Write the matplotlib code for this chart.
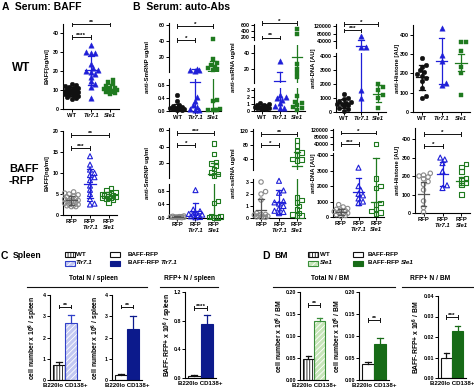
import numpy as np
import matplotlib
matplotlib.use('Agg')
import matplotlib.pyplot as plt
from matplotlib.patches import Rectangle
from matplotlib.lines import Line2D

# ---------------- data ----------------
groups_top = ['WT', 'Tlr7.1', 'Sle1']
groups_bot = ['RFP', 'Tlr7.1', 'Sle1']

# A: serum BAFF (ng/ml)
baff_wt = [[13, 12.5, 12, 11.5, 11, 11, 10.5, 10, 10, 9.5, 9.5, 9, 9, 8.5, 8.5, 8, 8, 7.5, 7, 7, 6.5, 6, 5.5],
           [33.5, 30, 29.5, 29.5, 23.5, 21.5, 20.5, 20, 19.5, 18.5, 17, 14.5, 13, 11.5, 6],
           [15.5, 14, 13, 12, 11, 10.5, 10, 10, 9.5, 9, 8.5, 8, 11]]
baff_wt_mean = [9.2, 20.3, 10.6]
baff_wt_sd = [2.2, 7.5, 2.3]
baff_rfp = [[5.5, 5.2, 5, 4.8, 4.5, 4.3, 4, 4, 3.8, 3.5, 3.5, 3.3, 3.2, 3, 3, 2.8, 2.5, 2.5, 2.3, 2.2, 2, 2],
            [14, 12, 10.8, 10, 9.5, 9, 8.3, 7, 6, 5, 3.8, 2.7, 2.5],
            [6.5, 6, 5.5, 5.3, 5, 5, 4.8, 4.6, 4.5, 4.3, 4, 4, 3.8, 3.5, 3]]
baff_rfp_mean = [3.5, 7.5, 4.6]
baff_rfp_sd = [1.1, 3.5, 0.9]

# B: auto-antibodies, WT background
smrnp_wt = [[0.50, 0.30, 0.20, 0.15, 0.12, 0.10, 0.10, 0.08, 0.06, 0.05, 0.05, 0.04, 0.03],
            [5.0, 4.0, 3.5, 3.0, 0.42, 0.30, 0.19, 0.12, 0.05, 0.03, 0.02],
            [43, 17, 12, 10, 8, 6, 5, 4, 0.35, 0.30, 0.05, 0.04, 0.03, 0.02, 0.02]]
smrnp_wt_mean = [0.10, 0.88, 3.0]
smrnp_wt_sd = [0.12, 4.6, 12.0]
ssrna_wt = [[1.2, 1.0, 0.9, 0.8, 0.7, 0.6, 0.6, 0.5, 0.5, 0.4, 0.4, 0.3, 0.3],
            [30, 2.3, 2.0, 1.8, 1.6, 1.1, 0.7, 0.5, 0.4],
            [460, 290, 26, 20, 15, 10, 2.2, 1.3, 1.1, 0.8, 0.6, 0.4, 0.15]]
ssrna_wt_mean = [0.65, 5.0, 35.0]
ssrna_wt_sd = [0.3, 11.0, 60.0]
dna_wt = [[1300, 1000, 900, 800, 700, 650, 600, 550, 500, 400, 300, 200, 100],
          [66000, 9000, 8000, 1600, 1000],
          [2000, 1750, 1600, 1200, 1000, 300]]
dna_wt_mean = [620, 17000, 1300]
dna_wt_sd = [330, 28000, 600]
hist_wt = [[280, 245, 235, 215, 205, 195, 185, 175, 160, 125, 85, 75],
           [435, 295, 265, 150, 140],
           [360, 360, 315, 235, 200, 90]]
hist_wt_mean = [180, 263, 255]
hist_wt_sd = [65, 120, 45]

# B: auto-antibodies, BAFF-RFP background
smrnp_rfp = [[0.06, 0.05, 0.04, 0.04, 0.03, 0.03, 0.03, 0.02, 0.02, 0.02, 0.01, 0.01],
             [0.82, 0.25, 0.20, 0.15, 0.12, 0.10, 0.10, 0.08, 0.05, 0.03, 0.02],
             [44, 31, 21, 19, 16, 12, 8, 6, 4, 0.50, 0.45, 0.05, 0.04, 0.03, 0.03, 0.02, 0.02]]
smrnp_rfp_mean = [0.03, 0.20, 6.0]
smrnp_rfp_sd = [0.02, 0.23, 14.0]
ssrna_rfp = [[3.0, 2.2, 2.0, 1.5, 0.4, 0.3, 0.3, 0.25, 0.2, 0.15, 0.1, 0.1, 0.05, 0.05],
             [3.1, 2.3, 2.1, 1.4, 1.3, 1.2, 1.0, 0.8, 0.6, 0.5, 0.4],
             [92, 78, 62, 58, 50, 40, 38, 35, 1.7, 1.5, 1.3, 1.0, 0.7, 0.4, 0.3, 0.2, 0.2]]
ssrna_rfp_mean = [0.67, 1.36, 18.0]
ssrna_rfp_sd = [0.9, 1.0, 40.0]
dna_rfp = [[800, 650, 550, 500, 450, 400, 350, 300, 250, 200, 150, 100, 50],
           [3200, 2000, 1750, 1500, 1400, 1200, 1000, 900],
           [38000, 2500, 2000, 1900, 900, 800, 500, 400, 300, 200]]
dna_rfp_mean = [350, 1650, 1000]
dna_rfp_sd = [200, 880, 2850]
hist_rfp = [[215, 205, 200, 195, 185, 170, 155, 125, 65, 30, 5],
            [300, 290, 270, 225, 150, 135],
            [265, 250, 225, 190, 175, 165, 150, 100]]
hist_rfp_mean = [105, 210, 175]
hist_rfp_sd = [65, 65, 22]

# C / D: plasma cell numbers (B220lo CD138+)
c_total_wt = [0.72, 2.68]
c_total_wt_err = [0.15, 0.38]
c_total_rfp = [0.22, 2.38]
c_total_rfp_err = [0.04, 0.62]
c_rfp_pos = [0.03, 0.75]
c_rfp_pos_err = [0.01, 0.13]
d_total_wt = [0.048, 0.133]
d_total_wt_err = [0.006, 0.009]
d_total_rfp = [0.036, 0.082]
d_total_rfp_err = [0.004, 0.014]
d_rfp_pos = [0.010, 0.023]
d_rfp_pos_err = [0.0022, 0.0022]

# ---------------- style ----------------
W, H = 474, 392
plt.rcParams['font.family'] = ['Liberation Sans', 'DejaVu Sans']
plt.rcParams['font.weight'] = 'bold'
plt.rcParams['mathtext.fontset'] = 'custom'
plt.rcParams['mathtext.rm'] = 'Liberation Sans:bold'
plt.rcParams['mathtext.default'] = 'rm'
plt.rcParams['hatch.linewidth'] = 0.6
plt.rcParams['axes.linewidth'] = 0.8

BLACK = '#111111'
BLUE = '#1f1fd8'
GREEN = '#1f7a1f'
GRAY = '#8a8a8a'
NAVY = '#0c1a8c'
DGREEN = '#176b17'
LBLUE = '#c3c8f2'
LGREEN = '#c6e6b8'

fig = plt.figure(figsize=(W / 100, H / 100), dpi=100)
renderer = fig.canvas.get_renderer()


def pax(x0, y0, x1, y1):
    return fig.add_axes([x0 / W, 1 - y1 / H, (x1 - x0) / W, (y1 - y0) / H])


def ftext(x, y, s, **kw):
    return fig.text(x / W, 1 - y / H, s, **kw)


def fline(x0, y0, x1, y1, **kw):
    fig.add_artist(Line2D([x0 / W, x1 / W], [1 - y0 / H, 1 - y1 / H],
                          transform=fig.transFigure, **kw))


def frect(x, y, w, h, **kw):
    fig.add_artist(Rectangle((x / W, 1 - (y + h) / H), w / W, h / H,
                             transform=fig.transFigure, **kw))


def bracket(ax, i, j, y, stars, fs=4.6):
    ax.plot([i, j], [y, y], color=BLACK, lw=0.7, clip_on=False, zorder=5)
    inv = ax.transData.inverted()
    for xx in (i, j):
        xd, yd = ax.transData.transform((xx, y))
        y1 = inv.transform((xd, yd - 1.8))[1]
        y2 = inv.transform((xd, yd + 1.8))[1]
        ax.plot([xx, xx], [y1, y2], color=BLACK, lw=0.7, clip_on=False, zorder=5)
    ax.annotate(stars, xy=((i + j) / 2, y), xytext=(0, -0.6), textcoords='offset points',
                ha='center', va='bottom', fontsize=fs, annotation_clip=False)


def swarm(ys, d, maxw=8.0):
    """Simple beeswarm in pixel space, limited to +-maxw pixels."""
    order = np.argsort(ys)
    placed = []
    offs = np.zeros(len(ys))
    step = d * 0.45
    cands = [0.0]
    n = 1
    while n * step <= maxw:
        cands += [n * step, -n * step]
        n += 1
    thr = d * 0.78
    for k in order:
        y = ys[k]
        best_c, best_d = 0.0, -1.0
        chosen = None
        for c in cands:
            md = min([np.hypot(c - px, y - py) for px, py in placed] or [1e9])
            if md >= thr:
                chosen = c
                break
            if md > best_d:
                best_c, best_d = c, md
        if chosen is None:
            chosen = best_c
        placed.append((chosen, y))
        offs[k] = chosen
    return offs


STY = {
    'top': [('o', BLACK, True, 11), ('^', BLUE, True, 15), ('s', GREEN, True, 11)],
    'bot': [('o', GRAY, False, 10), ('^', BLUE, False, 13), ('s', GREEN, False, 10)],
}
MEANC = {'top': [BLACK, BLUE, GREEN], 'bot': ['#555555', BLUE, GREEN]}


def pick(axes, v):
    best, bd = 0, 1e99
    for k, ax in enumerate(axes):
        lo, hi = ax.get_ylim()
        if lo <= v <= hi:
            return k
        dd = min(abs(v - lo), abs(v - hi)) / (hi - lo)
        if dd < bd:
            best, bd = k, dd
    return best


def dot_panel(x0, x1, sections, data, means, sds, row, brackets, ylabel, ylx):
    axes = []
    for k, (yt, yb, lim, ticks, tl) in enumerate(sections):
        ax = pax(x0, yt, x1, yb)
        ax.set_xlim(-0.45, 2.45)
        ax.set_ylim(*lim)
        ax.set_yticks(ticks)
        ax.set_yticklabels(tl)
        ax.spines['top'].set_visible(False)
        ax.spines['right'].set_visible(False)
        ax.patch.set_visible(False)
        ax.tick_params(axis='y', length=2, width=0.7, pad=1, labelsize=3.8)
        axes.append(ax)
    bot = axes[-1]
    bot.set_xticks([0, 1, 2])
    bot.tick_params(axis='x', length=2, width=0.7, pad=1.2, labelsize=4.2)
    if row == 'top':
        bot.set_xticklabels(groups_top)
        for lab in bot.get_xticklabels()[1:]:
            lab.set_style('italic')
    else:
        bot.set_xticklabels(['RFP'] * 3)
        for g in (1, 2):
            bot.annotate(groups_bot[g], xy=(g, 0), xycoords=('data', 'axes fraction'),
                         xytext=(0, -7.2), textcoords='offset points', ha='center', va='top',
                         fontsize=4.2, style='italic', annotation_clip=False)
    pxu = bot.transData.transform((1, 0))[0] - bot.transData.transform((0, 0))[0]
    for g, vals in enumerate(data):
        vals = np.asarray(vals, float)
        sec = np.array([pick(axes, v) for v in vals])
        ys = np.array([axes[s_].transData.transform((0, v))[1] for s_, v in zip(sec, vals)])
        xs = g + swarm(ys, 5.0, maxw=0.42 * pxu) / pxu
        mk, col, filled, sz = STY[row][g]
        mc = MEANC[row][g]
        m, s = means[g], sds[g]
        for k, ax in enumerate(axes):
            lo, hi = ax.get_ylim()
            inside = sec == k
            if inside.any():
                if filled:
                    ax.scatter(xs[inside], vals[inside], marker=mk, s=sz, facecolors=col,
                               edgecolors=col, linewidths=0.3, zorder=3, clip_on=False)
                else:
                    ax.scatter(xs[inside], vals[inside], marker=mk, s=sz, facecolors='none',
                               edgecolors=col, linewidths=0.8, zorder=3, clip_on=False)
            if lo <= m <= hi:
                ax.plot([g - 0.3, g + 0.3], [m, m], color=mc, lw=0.9, zorder=4)
            a, b = max(m - s, lo), min(m + s, hi)
            if a < b:
                ax.plot([g, g], [a, b], color=mc, lw=0.9, zorder=4)
            for yy in (m - s, m + s):
                if lo <= yy <= hi:
                    ax.plot([g - 0.15, g + 0.15], [yy, yy], color=mc, lw=0.9, zorder=4)
    for ax in axes[:-1]:
        ax.spines['bottom'].set_visible(False)
        ax.tick_params(axis='x', which='both', bottom=False, labelbottom=False)
    for (i, j, y, st) in brackets:
        bracket(axes[0], i, j, y, st)
    ycen = (sections[0][0] + sections[-1][1]) / 2
    ftext(ylx, ycen, ylabel, rotation=90, ha='center', va='center', fontsize=4.3)
    return axes


def text_pair(x, y, s1, s2, fs):
    t = ftext(x, y, s1 + ' ', fontsize=fs, va='center')
    bb = t.get_window_extent(renderer=renderer)
    fig.text(bb.x1 / fig.dpi / fig.get_figwidth(), 1 - y / H, s2, fontsize=fs, va='center',
             style='italic')


# ---------------- Panel A ----------------
ftext(2, 7, 'A  Serum: BAFF', fontsize=7.5, va='center', ha='left')
ftext(12, 68, 'WT', fontsize=8.5, va='center', ha='left')
ftext(9, 175, 'BAFF\n-RFP', fontsize=8, va='center', ha='left', linespacing=1.25)

dot_panel(63, 119, [(23.5, 109, (0, 45), [0, 10, 20, 30, 40], ['0', '10', '20', '30', '40'])],
          baff_wt, baff_wt_mean, baff_wt_sd, 'top',
          [(0, 1, 38, '****'), (0, 2, 44.5, '**')], 'BAFF[ng/ml]', 47)
dot_panel(63, 117, [(131, 215, (0, 20), [0, 5, 10, 15, 20], ['0', '5', '10', '15', '20'])],
          baff_rfp, baff_rfp_mean, baff_rfp_sd, 'bot',
          [(0, 1, 16, '***'), (0, 2, 19, '**')], 'BAFF[ng/ml]', 47)

# ---------------- Panel B ----------------
ftext(133, 7, 'B  Serum: auto-Abs', fontsize=7.5, va='center', ha='left')

dot_panel(169, 221, [(23.4, 72.2, (1, 62), [20, 40, 60], ['20', '40', '60']),
                     (78.5, 111, (0, 1.0), [0, 0.4, 0.8], ['0.0', '0.4', '0.8'])],
          smrnp_wt, smrnp_wt_mean, smrnp_wt_sd, 'top',
          [(0, 1, 41, '*'), (0, 2, 58.5, '*')], 'anti-SmRNP ug/ml', 148)
dot_panel(254, 305, [(23.5, 40, (100, 650), [200, 400, 600], ['200', '400', '600']),
                     (45, 82.6, (3, 50), [20, 40], ['20', '40']),
                     (88, 111, (0, 3.3), [0, 1, 2, 3], ['0', '1', '2', '3'])],
          ssrna_wt, ssrna_wt_mean, ssrna_wt_sd, 'top',
          [(0, 1, 183, '**'), (0, 2, 660, '*')], 'anti-ssRNA ug/ml', 233)
dot_panel(336, 386, [(24, 48, (4000, 130000), [40000, 80000, 120000], ['40000', '80000', '120000']),
                     (53, 112, (0, 4200), [0, 1000, 2000, 3000, 4000], ['0', '1000', '2000', '3000', '4000'])],
          dna_wt, dna_wt_mean, dna_wt_sd, 'top',
          [(0, 1, 96000, '***'), (0, 2, 129000, '*')], 'anti-DNA [AU]', 313)
dot_panel(413, 470, [(25, 112, (0, 450), [0, 100, 200, 300, 400], ['0', '100', '200', '300', '400'])],
          hist_wt, hist_wt_mean, hist_wt_sd, 'top', [], 'anti-Histone [AU]', 397)

dot_panel(169, 222, [(128, 178, (1, 63), [20, 40, 60], ['20', '40', '60']),
                     (184, 218, (0, 1.0), [0, 0.4, 0.8], ['0.0', '0.4', '0.8'])],
          smrnp_rfp, smrnp_rfp_mean, smrnp_rfp_sd, 'bot',
          [(0, 1, 42, '*'), (0, 2, 57, '***')], 'anti-SmRNP ug/ml', 148)
dot_panel(253, 305, [(129, 170, (8, 125), [40, 80, 120], ['40', '80', '120']),
                     (179, 218, (0, 3.25), [0, 1, 2, 3], ['0', '1', '2', '3'])],
          ssrna_rfp, ssrna_rfp_mean, ssrna_rfp_sd, 'bot',
          [(0, 1, 79, '*'), (0, 2, 111, '**')], 'anti-ssRNA ug/ml', 233)
dot_panel(333, 384, [(129, 150, (4000, 125000), [40000, 80000, 120000], ['40000', '80000', '120000']),
                     (153, 217, (0, 4150), [0, 1000, 2000, 3000, 4000], ['0', '1000', '2000', '3000', '4000'])],
          dna_rfp, dna_rfp_mean, dna_rfp_sd, 'bot',
          [(0, 1, 40000, '***'), (0, 2, 104000, '*')], 'anti-DNA [AU]', 313)
dot_panel(415, 470, [(128, 213, (0, 460), [0, 100, 200, 300, 400], ['0', '100', '200', '300', '400'])],
          hist_rfp, hist_rfp_mean, hist_rfp_sd, 'bot',
          [(0, 1, 362, '*'), (0, 2, 427, '*')], 'anti-Histone [AU]', 397)


# ---------------- Panels C / D ----------------
BARSTY = {
    'wt': dict(face='white', hatch='||||||', hcol=BLACK, edge=BLACK),
    'tlr_h': dict(face=LBLUE, hatch='//////', hcol='white', edge='#3040c8'),
    'rfp': dict(face='white', hatch=None, hcol=None, edge=BLACK),
    'tlr_f': dict(face=NAVY, hatch=None, hcol=None, edge=NAVY),
    'sle_h': dict(face=LGREEN, hatch='//////', hcol='white', edge='#3a8f3a'),
    'sle_f': dict(face=DGREEN, hatch=None, hcol=None, edge=DGREEN),
}


def bar_panel(x0, x1, yt, yb, ylim, ticks, tl, means, errs, styles, br, ylabel, ylx):
    ax = pax(x0, yt, x1, yb)
    ax.set_xlim(-0.75, 1.75)
    ax.set_ylim(*ylim)
    ax.set_yticks(ticks)
    ax.set_yticklabels(tl)
    ax.set_xticks([])
    ax.spines['top'].set_visible(False)
    ax.spines['right'].set_visible(False)
    ax.patch.set_visible(False)
    ax.tick_params(axis='y', length=2, width=0.7, pad=1, labelsize=3.8)
    for g, (m, e, st) in enumerate(zip(means, errs, styles)):
        S = BARSTY[st]
        if S['hatch']:
            ax.bar(g, m, width=1.0, color=S['face'], hatch=S['hatch'], edgecolor=S['hcol'],
                   linewidth=0, zorder=2)
            ax.bar(g, m, width=1.0, fill=False, edgecolor=S['edge'], linewidth=0.8, zorder=3)
        else:
            ax.bar(g, m, width=1.0, color=S['face'], edgecolor=S['edge'], linewidth=0.8, zorder=2)
        ax.plot([g, g], [m, m + e], color=S['edge'], lw=0.9, zorder=4)
        ax.plot([g - 0.25, g + 0.25], [m + e, m + e], color=S['edge'], lw=0.9, zorder=4)
    bracket(ax, br[0], br[1], br[2], br[3])
    ax.annotate('B220lo CD138+', xy=(0.5, 0), xycoords=('data', 'axes fraction'),
                xytext=(0, -2.0), textcoords='offset points', ha='center', va='top',
                fontsize=4.4, annotation_clip=False)
    ftext(ylx, (yt + yb) / 2, ylabel, rotation=90, ha='center', va='center', fontsize=4.9)
    return ax


def legend_key(x, y, st):
    S = BARSTY[st]
    if S['hatch']:
        frect(x, y - 2.5, 10, 5, facecolor=S['face'], hatch=S['hatch'], edgecolor=S['hcol'], linewidth=0)
        frect(x, y - 2.5, 10, 5, fill=False, edgecolor=S['edge'], linewidth=0.8)
    else:
        frect(x, y - 2.5, 10, 5, facecolor=S['face'], edgecolor=S['edge'], linewidth=0.8)


# C header + legend
ftext(1, 256, 'C', fontsize=7.5, va='center', ha='left')
ftext(13, 256, 'Spleen', fontsize=6.2, va='center', ha='left')
legend_key(65, 254, 'wt'); ftext(76, 254, 'WT', fontsize=4.5, va='center')
legend_key(110, 254, 'rfp'); ftext(128, 254, 'BAFF-RFP', fontsize=4.5, va='center')
legend_key(65, 263, 'tlr_h'); ftext(76, 263, 'Tlr7.1', fontsize=4.5, va='center', style='italic')
legend_key(110, 263, 'tlr_f')
text_pair(128, 263, 'BAFF-RFP', 'Tlr7.1', 4.5)

ftext(93, 278, 'Total N / spleen', fontsize=4.8, ha='center', va='center')
fline(27, 287, 147, 287, color=BLACK, lw=0.8)
ftext(189, 278, 'RFP+ N / spleen', fontsize=4.8, ha='center', va='center')
fline(160, 287, 218, 287, color=BLACK, lw=0.8)

bar_panel(50, 80, 295, 380, (0, 4), [0, 1, 2, 3, 4], ['0', '1', '2', '3', '4'],
          c_total_wt, c_total_wt_err, ['wt', 'tlr_h'], (0, 1, 3.45, '**'),
          'cell number x 10$^{6}$ / spleen', 33)
bar_panel(112, 142, 295, 380, (0, 4), [0, 1, 2, 3, 4], ['0', '1', '2', '3', '4'],
          c_total_rfp, c_total_rfp_err, ['rfp', 'tlr_f'], (0, 1, 3.45, '**'),
          'cell number x 10$^{6}$ / spleen', 96)
bar_panel(185, 216, 292, 378, (0, 1.2), [0, 0.4, 0.8, 1.2], ['0.0', '0.4', '0.8', '1.2'],
          c_rfp_pos, c_rfp_pos_err, ['rfp', 'tlr_f'], (0, 1, 0.98, '****'),
          'BAFF-RFP+ x 10$^{6}$ / spleen', 168)

# D header + legend
ftext(262, 256, 'D', fontsize=7.5, va='center', ha='left')
ftext(274, 256, 'BM', fontsize=6.2, va='center', ha='left')
legend_key(308, 254, 'wt'); ftext(320, 254, 'WT', fontsize=4.5, va='center')
legend_key(353, 254, 'rfp'); ftext(368, 254, 'BAFF-RFP', fontsize=4.5, va='center')
legend_key(308, 263, 'sle_h'); ftext(320, 263, 'Sle1', fontsize=4.5, va='center', style='italic')
legend_key(353, 263, 'sle_f')
text_pair(368, 263, 'BAFF-RFP', 'Sle1', 4.5)

ftext(330, 278, 'Total N / BM', fontsize=4.8, ha='center', va='center')
fline(273, 287, 395, 287, color=BLACK, lw=0.8)
ftext(430, 278, 'RFP+ N / BM', fontsize=4.8, ha='center', va='center')
fline(402, 287, 474, 287, color=BLACK, lw=0.8)

bar_panel(300, 328, 292, 380, (0, 0.2), [0, 0.05, 0.10, 0.15, 0.20], ['0.00', '0.05', '0.10', '0.15', '0.20'],
          d_total_wt, d_total_wt_err, ['wt', 'sle_h'], (0, 1, 0.17, '**'),
          'cell number x 10$^{6}$ / BM', 279)
bar_panel(359, 389, 292, 380, (0, 0.2), [0, 0.05, 0.10, 0.15, 0.20], ['0.00', '0.05', '0.10', '0.15', '0.20'],
          d_total_rfp, d_total_rfp_err, ['rfp', 'sle_f'], (0, 1, 0.136, '**'),
          'cell number x 10$^{6}$ / BM', 337)
bar_panel(438, 466, 296, 378, (0, 0.04), [0, 0.01, 0.02, 0.03, 0.04], ['0.00', '0.01', '0.02', '0.03', '0.04'],
          d_rfp_pos, d_rfp_pos_err, ['rfp', 'sle_f'], (0, 1, 0.0298, '***'),
          'BAFF-RFP+ x 10$^{6}$ / BM', 416)

fig.savefig('out.png', dpi=100)
